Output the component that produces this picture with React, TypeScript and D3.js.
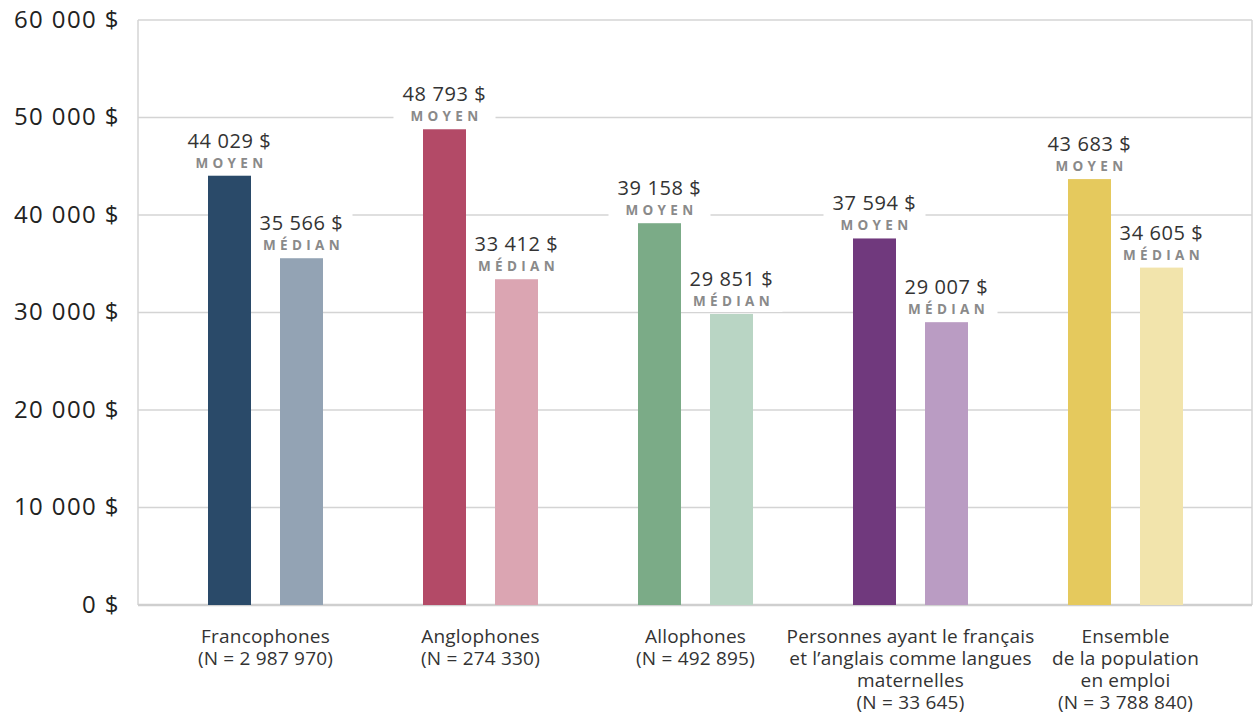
import React from "react";
import * as d3 from "d3";

const categories = ["Francophones", "Anglophones", "Allophones", "Personnes", "Ensemble"];
const categoryLabels: string[][] = [
  ["Francophones", "(N = 2 987 970)"],
  ["Anglophones", "(N = 274 330)"],
  ["Allophones", "(N = 492 895)"],
  ["Personnes ayant le français", "et l’anglais comme langues", "maternelles", "(N = 33 645)"],
  ["Ensemble", "de la population", "en emploi", "(N = 3 788 840)"],
];
const moyenValues = [44029, 48793, 39158, 37594, 43683];
const medianValues = [35566, 33412, 29851, 29007, 34605];
const series = ["moyen", "median"];
const seriesLabels = ["MOYEN", "MÉDIAN"];
const darkColors = ["#2a4a69", "#b34a67", "#7bab87", "#70397d", "#e5c95d"];
const lightColors = ["#93a3b4", "#dba5b2", "#b9d5c4", "#ba9cc3", "#f2e4ac"];
const yTicks = [0, 10000, 20000, 30000, 40000, 50000, 60000];

const W = 1253;
const H = 721;
const plotLeft = 138;
const plotRight = 1252;
const plotTop = 20;
const plotBottom = 605;

const fmt = (v: number) => d3.format(",")(v).replace(/,/g, " ") + " $";
const FONT = "'Open Sans', sans-serif";

export default function App() {
  const y = d3.scaleLinear().domain([0, 60000]).range([plotBottom, plotTop]);
  const x = d3.scaleBand().domain(categories).range([158, 1233]).padding(0);
  const xs = d3.scaleBand().domain(series).range([50, 165]).paddingInner(0.4028).paddingOuter(0);
  const bw = xs.bandwidth();

  const bars: any[] = [];
  categories.forEach((c, i) => {
    [moyenValues[i], medianValues[i]].forEach((v, j) => {
      const bx = (x(c) as number) + (xs(series[j]) as number);
      bars.push({ c, i, j, v, bx, top: y(v), color: j === 0 ? darkColors[i] : lightColors[i] });
    });
  });

  return (
    <svg width={W} height={H} style={{ display: "block", position: "absolute", left: 0, top: 0 }}>
      <rect x={0} y={0} width={W} height={H} fill="#fff" />
      {yTicks.map((t) => (
        <line key={t} x1={plotLeft} x2={plotRight} y1={y(t)} y2={y(t)} stroke="#d4d4d4" strokeWidth={1.5} />
      ))}
      <line x1={plotLeft} x2={plotLeft} y1={plotTop} y2={plotBottom} stroke="#d4d4d4" strokeWidth={1.5} />
      <line x1={plotRight} x2={plotRight} y1={plotTop} y2={plotBottom} stroke="#d4d4d4" strokeWidth={1.5} />
      <line x1={plotLeft} x2={plotRight} y1={plotBottom} y2={plotBottom} stroke="#cfcfcf" strokeWidth={2.5} />
      {yTicks.map((t) => (
        <text key={t} x={120} y={y(t) - 2} textAnchor="end" dominantBaseline="central" fontFamily={FONT} fontSize={24} letterSpacing={1.4} fill="#222">
          {fmt(t)}
        </text>
      ))}
      {bars.map((b, k) => (
        <rect key={"bg" + k} x={b.bx + bw / 2 - 51} y={b.top - 47} width={102} height={45} fill="#fff" />
      ))}
      {bars.map((b, k) => (
        <rect key={"b" + k} x={b.bx} y={b.top} width={bw} height={plotBottom - b.top} fill={b.color} />
      ))}
      {bars.map((b, k) => (
        <g key={"l" + k}>
          <text x={b.bx + bw / 2} y={b.top - 28} textAnchor="middle" fontFamily={FONT} fontSize={20} letterSpacing={0.6} fill="#333">
            {fmt(b.v)}
          </text>
          <text x={b.bx + bw / 2 + 2} y={b.top - 8} textAnchor="middle" fontFamily={FONT} fontSize={13.5} fontWeight={700} letterSpacing={4.3} fill="#8a8a8a">
            {seriesLabels[b.j]}
          </text>
        </g>
      ))}
      {categories.map((c, i) => (
        <text key={c} textAnchor="middle" fontFamily={FONT} fontSize={19} letterSpacing={0.2} fill="#333">
          {categoryLabels[i].map((line, li) => (
            <tspan key={li} x={(x(c) as number) + x.bandwidth() / 2} y={642.5 + li * 22}>
              {line}
            </tspan>
          ))}
        </text>
      ))}
    </svg>
  );
}
